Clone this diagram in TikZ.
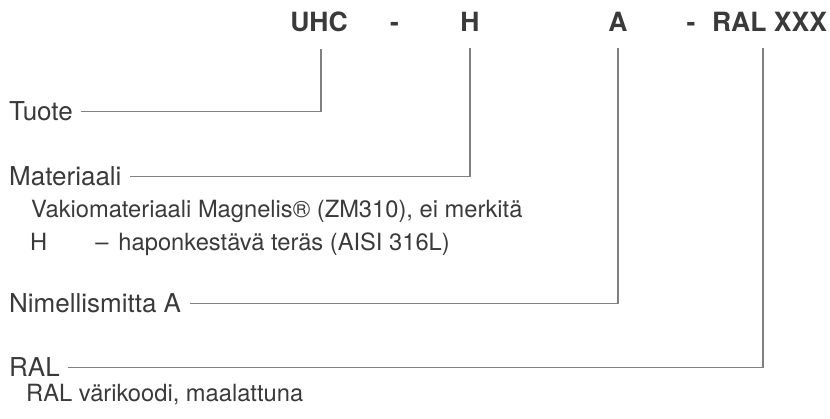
\documentclass[tikz,border=0pt]{standalone}
\usepackage{fontspec}
\setmainfont{TeX Gyre Heros}
\usepackage{tikz}

\definecolor{textgray}{RGB}{58,58,58}
\definecolor{linegray}{RGB}{128,128,128}

\begin{document}
\begin{tikzpicture}[x=1pt, y=-1pt,
    code/.style={inner sep=0pt, anchor=base, text=textgray, font=\fontsize{26.5}{30}\selectfont\bfseries},
    label/.style={inner sep=0pt, anchor=base west, text=textgray, font=\fontsize{26}{30}\selectfont},
    sub/.style={inner sep=0pt, anchor=base west, text=textgray, font=\fontsize{23.7}{28}\selectfont},
    conn/.style={draw=linegray, line width=1.5pt, shorten <=8.5pt, shorten >=16pt}]
    \useasboundingbox (0,0) rectangle (830,419);

    % code line
    \node[code] (huhc) at (319,32) {UHC};
    \node[code] (hdashone) at (394.5,32) {-};
    \node[code] (hh) at (470,32) {H};
    \node[code] (ha) at (618,32) {A};
    \node[code] (hdashtwo) at (691,32) {-};
    \node[code] (hral) at (769.5,32) {RAL XXX};

    % labels
    \node[label] (ltuote) at (9,120.7) {Tuote};
    \node[label] (lmat) at (9,186) {Materiaali};
    \node[sub] (smatone) at (31,218) {Vakiomateriaali Magnelis® (ZM310), ei merkitä};
    \node[sub] (smattwo) at (30,251) {H\hspace{48pt}–\hspace{10pt}haponkestävä teräs (AISI 316L)};
    \node[label] (lnim) at (9,313) {Nimellismitta A};
    \node[label] (lral) at (9,377) {RAL};
    \node[sub] (sral) at (26,402) {RAL värikoodi, maalattuna};

    \draw[conn] (ltuote.east) -| ([xshift=2pt]huhc.south);
    \draw[conn] (lmat.east) -| (hh.south);
    \draw[conn] (lnim.east) -| (ha.south);
    \draw[conn] (lral.east) -| ([xshift=-6.5pt]hral.south);
  \end{tikzpicture}
\end{document}
